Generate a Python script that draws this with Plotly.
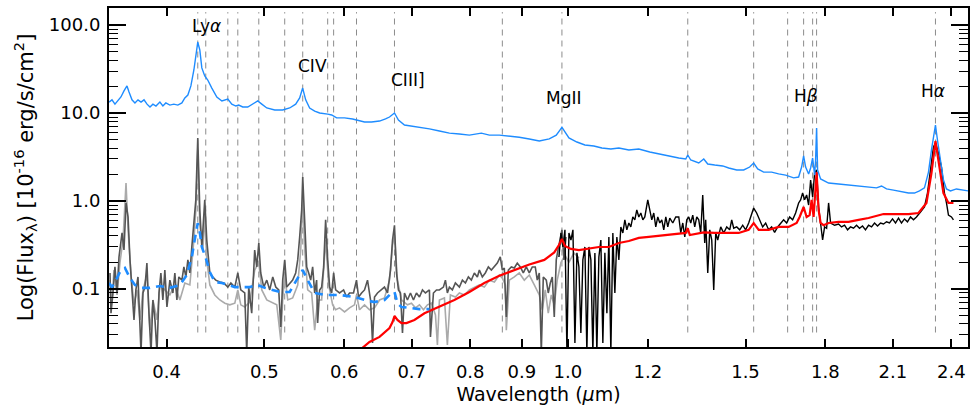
import math
import plotly.graph_objects as go

# ---------------- data (wavelength in micron, flux in 1e-16 erg/s/cm2) ----------------
TPL_WL = [0.3507, 0.3531, 0.3555, 0.3580, 0.3604, 0.3629, 0.3654, 0.3671, 0.3696, 0.3721,
          0.3747, 0.3773, 0.3799, 0.3825, 0.3851, 0.3877, 0.3904, 0.3939, 0.3966, 0.3993,
          0.4030, 0.4067, 0.4104, 0.4142, 0.4170, 0.4199, 0.4228, 0.4257, 0.4276, 0.4295,
          0.4315, 0.4335, 0.4364, 0.4394, 0.4435, 0.4486, 0.4538, 0.4600, 0.4642, 0.4685,
          0.4716, 0.4759, 0.4814, 0.4869, 0.4925, 0.4971, 0.5028, 0.5120, 0.5214, 0.5298,
          0.5371, 0.5420, 0.5457, 0.5495, 0.5545, 0.5609, 0.5673, 0.5778, 0.5831, 0.5897,
          0.6005, 0.6116, 0.6172, 0.6285, 0.6386, 0.6504, 0.6594, 0.6654, 0.6730, 0.6791,
          0.6885, 0.6996, 0.7125, 0.7289, 0.7457, 0.7629, 0.7805, 0.7985, 0.8206, 0.8358,
          0.8550, 0.8748, 0.8949, 0.9156, 0.9367, 0.9583, 0.9737, 0.9819, 0.9864, 0.9932,
          1.0023, 1.0207, 1.0395, 1.0610, 1.0806, 1.1030, 1.1233, 1.1492, 1.1757, 1.2055,
          1.2306, 1.2590, 1.2880, 1.3087, 1.3147, 1.3237, 1.3481, 1.3636, 1.3761, 1.3982,
          1.4239, 1.4436, 1.4702, 1.4938, 1.5143, 1.5282, 1.5423, 1.5635, 1.5922, 1.6179,
          1.6439, 1.6742, 1.6934, 1.7050, 1.7128, 1.7207, 1.7325, 1.7404, 1.7484, 1.7564,
          1.7603, 1.7643, 1.7684, 1.7805, 1.8133, 1.8551, 1.8979, 1.9417, 1.9865, 2.0231,
          2.0462, 2.0697, 2.1030, 2.1417, 2.1762, 2.2061, 2.2315, 2.2570, 2.2778, 2.2934,
          2.3039, 2.3144, 2.3250, 2.3410, 2.3570, 2.3733, 2.3950, 2.4280, 2.4615, 2.4953]
TPL_FLUX = [13.3, 14.1, 12.6, 13.7, 15.2, 17.8, 20.3, 17.3, 14.1, 13.0,
            14.1, 13.3, 14.1, 12.6, 11.7, 12.6, 12.0, 13.3, 12.0, 13.0,
            12.3, 12.6, 12.3, 13.0, 14.8, 16.0, 20.3, 30.8, 45.6, 64.0,
            52.0, 32.5, 26.3, 23.7, 19.2, 15.2, 13.7, 14.4, 12.6, 12.0,
            12.3, 11.7, 11.7, 12.6, 13.7, 12.6, 11.4, 10.8, 10.8, 11.4,
            12.6, 14.8, 19.2, 14.1, 11.4, 10.5, 10.0, 9.7, 9.5, 8.8,
            8.8, 8.55, 8.3, 7.9, 7.9, 8.1, 8.55, 9.0, 10.0, 8.3,
            7.3, 7.1, 6.9, 6.6, 6.25, 5.9, 5.77, 5.6, 5.9, 5.6,
            5.6, 5.47, 5.3, 5.07, 4.8, 5.07, 5.6, 6.4, 6.9, 6.1,
            5.2, 4.68, 4.33, 4.22, 4.0, 3.9, 4.0, 3.8, 3.9, 3.6,
            3.42, 3.25, 3.08, 3.0, 3.33, 2.92, 2.7, 3.0, 2.63, 2.56,
            2.5, 2.37, 2.25, 2.25, 2.43, 2.7, 2.31, 2.13, 2.13, 2.03,
            1.97, 1.83, 1.87, 2.43, 3.25, 2.43, 2.03, 2.37, 3.08, 1.97,
            2.92, 6.76, 2.25, 1.78, 1.6, 1.56, 1.52, 1.48, 1.44, 1.41,
            1.48, 1.37, 1.33, 1.27, 1.23, 1.23, 1.30, 1.41, 2.13, 3.8,
            5.6, 7.3, 4.93, 2.92, 1.73, 1.37, 1.30, 1.37, 1.33, 1.30]

TPL_SCALED_WL = [0.3507, 0.3531, 0.3563, 0.3596, 0.3637, 0.3679, 0.3721, 0.3781, 0.3851, 0.3939,
                 0.4030, 0.4123, 0.4189, 0.4237, 0.4276, 0.4295, 0.4315, 0.4335, 0.4374, 0.4415,
                 0.4465, 0.4538, 0.4674, 0.4836, 0.4925, 0.5005, 0.5179, 0.5298, 0.5396, 0.5458,
                 0.5520, 0.5609, 0.5739, 0.5937, 0.6143, 0.6285, 0.6430, 0.6578, 0.6685, 0.6730,
                 0.6776, 0.6838, 0.6964, 0.7125, 0.7289]
TPL_SCALED_FLUX = [0.117, 0.105, 0.126, 0.156, 0.173, 0.133, 0.111, 0.103, 0.103, 0.108,
                   0.103, 0.111, 0.144, 0.231, 0.43, 0.56, 0.44, 0.30, 0.225, 0.156,
                   0.12, 0.117, 0.105, 0.105, 0.111, 0.103, 0.0925, 0.0925, 0.133, 0.164,
                   0.126, 0.090, 0.0855, 0.0855, 0.081, 0.075, 0.071, 0.075, 0.090, 0.0925,
                   0.069, 0.0625, 0.061, 0.059, 0.059]

OPT1_WL = [0.3515, 0.3523, 0.3539, 0.3555, 0.3572, 0.3588, 0.3613, 0.3629, 0.3646, 0.3663,
           0.3679, 0.3696, 0.3713, 0.3729, 0.3747, 0.3773, 0.3790, 0.3807, 0.3824, 0.3842,
           0.3860, 0.3877, 0.3895, 0.3913, 0.3931, 0.3948, 0.3966, 0.3984, 0.4003, 0.4030,
           0.4058, 0.4076, 0.4095, 0.4113, 0.4142, 0.4161, 0.4180, 0.4199, 0.4218, 0.4237,
           0.4257, 0.4276, 0.4295, 0.4315, 0.4335, 0.4364, 0.4384, 0.4415, 0.4445, 0.4475,
           0.4517, 0.4558, 0.4600, 0.4632, 0.4674, 0.4706, 0.4738, 0.4781, 0.4803, 0.4825,
           0.4858, 0.4869, 0.4891, 0.4914, 0.4937, 0.4959, 0.4993, 0.5028, 0.5062, 0.5097,
           0.5132, 0.5167, 0.5191, 0.5214, 0.5238, 0.5262, 0.5298, 0.5334, 0.5371, 0.5396,
           0.5420, 0.5445, 0.5458, 0.5483, 0.5508, 0.5533, 0.5558, 0.5583, 0.5609, 0.5634,
           0.5647, 0.5673, 0.5699, 0.5725, 0.5751, 0.5778, 0.5804, 0.5831, 0.5857, 0.5884,
           0.5937, 0.5992, 0.6033, 0.6074, 0.6129, 0.6171, 0.6200, 0.6243, 0.6285, 0.6328,
           0.6372, 0.6401, 0.6430, 0.6474, 0.6534, 0.6578, 0.6624, 0.6669, 0.6700, 0.6730,
           0.6761, 0.6791, 0.6823, 0.6854, 0.6885, 0.6932, 0.6980, 0.7028, 0.7076, 0.7125,
           0.7174, 0.7223, 0.7289, 0.7306, 0.7356, 0.7407, 0.7457, 0.7525, 0.7560, 0.7594,
           0.7629, 0.7681, 0.7734, 0.7805, 0.7859, 0.7913, 0.7967, 0.8021, 0.8076, 0.8132,
           0.8169, 0.8225, 0.8281, 0.8339, 0.8396, 0.8454, 0.8511, 0.8569, 0.8609, 0.8648,
           0.8688, 0.8728, 0.8788, 0.8848, 0.8908, 0.8970, 0.9031, 0.9093, 0.9156, 0.9219,
           0.9282, 0.9324, 0.9367, 0.9410, 0.9453, 0.9518, 0.9561, 0.9605, 0.9649, 0.9693,
           0.9737, 0.9775, 0.9819, 0.9864, 0.9910, 0.9955]
OPT1_FLUX = [0.152, 0.053, 0.090, 0.178, 0.090, 0.231, 0.433, 0.277, 0.95, 0.658,
             0.214, 0.0975, 0.0445, 0.0975, 0.137, 0.019, 0.090, 0.105, 0.197, 0.053,
             0.019, 0.075, 0.0445, 0.019, 0.090, 0.152, 0.075, 0.164, 0.0625, 0.126,
             0.090, 0.152, 0.075, 0.137, 0.126, 0.178, 0.137, 0.214, 0.152, 0.30,
             0.562, 1.03, 5.2, 0.79, 0.30, 1.03, 0.36, 0.152, 0.137, 0.126,
             0.12, 0.117, 0.105, 0.117, 0.105, 0.152, 0.0975, 0.090, 0.019, 0.105,
             0.053, 0.090, 0.277, 0.178, 0.333, 0.152, 0.105, 0.126, 0.0975, 0.137,
             0.105, 0.0975, 0.037, 0.126, 0.214, 0.105, 0.117, 0.126, 0.152, 0.214,
             0.39, 0.79, 1.87, 0.507, 0.178, 0.152, 0.126, 0.178, 0.090, 0.126,
             0.041, 0.0975, 0.105, 0.178, 0.61, 0.214, 0.105, 0.090, 0.152, 0.0975,
             0.090, 0.0975, 0.081, 0.090, 0.090, 0.126, 0.081, 0.090, 0.0975, 0.126,
             0.075, 0.0243, 0.081, 0.090, 0.0975, 0.105, 0.090, 0.164, 0.36, 0.53,
             0.152, 0.0975, 0.090, 0.0316, 0.090, 0.075, 0.090, 0.075, 0.090, 0.081,
             0.0975, 0.090, 0.0975, 0.0285, 0.090, 0.0975, 0.0975, 0.105, 0.126, 0.090,
             0.105, 0.0975, 0.117, 0.105, 0.126, 0.117, 0.137, 0.126, 0.152, 0.137,
             0.164, 0.137, 0.152, 0.178, 0.164, 0.178, 0.197, 0.231, 0.164, 0.173,
             0.048, 0.164, 0.178, 0.173, 0.197, 0.178, 0.152, 0.178, 0.152, 0.178,
             0.178, 0.126, 0.152, 0.019, 0.137, 0.126, 0.090, 0.117, 0.137, 0.048,
             0.214, 0.277, 0.36, 0.47, 0.214, 0.39]

OPT2_WL = [0.3515, 0.3531, 0.3547, 0.3572, 0.3596, 0.3621, 0.3646, 0.3663, 0.3688, 0.3713,
           0.3738, 0.3764, 0.3790, 0.3824, 0.3851, 0.3877, 0.3913, 0.3939, 0.3984, 0.4030,
           0.4076, 0.4123, 0.4170, 0.4218, 0.4257, 0.4276, 0.4295, 0.4315, 0.4345, 0.4364,
           0.4384, 0.4415, 0.4465, 0.4517, 0.4569, 0.4621, 0.4674, 0.4706, 0.4738, 0.4781,
           0.4836, 0.4891, 0.4937, 0.4971, 0.5028, 0.5096, 0.5144, 0.5191, 0.5214, 0.5238,
           0.5274, 0.5334, 0.5396, 0.5433, 0.5458, 0.5483, 0.5520, 0.5570, 0.5609, 0.5647,
           0.5699, 0.5751, 0.5791, 0.5844, 0.5884, 0.5937, 0.6005, 0.6074, 0.6143, 0.6171,
           0.6214, 0.6285, 0.6357, 0.6430, 0.6504, 0.6578, 0.6654, 0.6700, 0.6730, 0.6776,
           0.6838, 0.6932, 0.6996, 0.7060, 0.7125, 0.7190, 0.7256, 0.7323, 0.7390, 0.7423,
           0.7457, 0.7543, 0.7594, 0.7646, 0.7734, 0.7805, 0.7895, 0.7985, 0.8076, 0.8169,
           0.8262, 0.8358, 0.8454, 0.8550, 0.8609, 0.8668, 0.8688, 0.8748, 0.8848, 0.8949,
           0.9052, 0.9156, 0.9261, 0.9367, 0.9431, 0.9496, 0.9561, 0.9627, 0.9693, 0.9759,
           0.9842, 0.9932, 1.0023, 1.0138, 1.0254]
OPT2_FLUX = [0.126, 0.075, 0.164, 0.0855, 0.20, 0.36, 1.6, 0.47, 0.144, 0.066,
             0.0975, 0.0445, 0.0975, 0.144, 0.034, 0.075, 0.0445, 0.111, 0.0975, 0.0855,
             0.111, 0.075, 0.117, 0.111, 0.36, 0.79, 3.8, 0.53, 0.277, 0.69,
             0.214, 0.111, 0.0855, 0.075, 0.069, 0.066, 0.069, 0.0975, 0.066, 0.0625,
             0.071, 0.164, 0.20, 0.0975, 0.075, 0.069, 0.066, 0.0263, 0.075, 0.144,
             0.075, 0.079, 0.111, 0.277, 1.03, 0.277, 0.0975, 0.090, 0.034, 0.075,
             0.075, 0.36, 0.111, 0.066, 0.058, 0.061, 0.0548, 0.061, 0.066, 0.0855,
             0.058, 0.066, 0.058, 0.061, 0.075, 0.079, 0.126, 0.316, 0.41, 0.126,
             0.075, 0.066, 0.069, 0.061, 0.066, 0.058, 0.066, 0.069, 0.0507, 0.0231,
             0.075, 0.079, 0.0231, 0.0855, 0.081, 0.090, 0.0855, 0.0975, 0.103, 0.111,
             0.105, 0.126, 0.12, 0.144, 0.133, 0.111, 0.034, 0.126, 0.137, 0.152,
             0.126, 0.144, 0.111, 0.0855, 0.058, 0.0975, 0.053, 0.0855, 0.066, 0.126,
             0.20, 0.243, 0.20, 0.257, 0.225]

NIR_WL = [0.9797, 0.9842, 0.9887, 0.9932, 0.9977, 1.0023, 1.0069, 1.0115, 1.0161, 1.0207,
          1.0254, 1.0300, 1.0347, 1.0395, 1.0442, 1.0490, 1.0538, 1.0586, 1.0635, 1.0683,
          1.0732, 1.0781, 1.0830, 1.0880, 1.0930, 1.0980, 1.1030, 1.1080, 1.1131, 1.1182,
          1.1233, 1.1284, 1.1336, 1.1388, 1.1440, 1.1492, 1.1544, 1.1597, 1.1650, 1.1703,
          1.1757, 1.1811, 1.1865, 1.1919, 1.2000, 1.2055, 1.2110, 1.2165, 1.2221, 1.2277,
          1.2334, 1.2390, 1.2446, 1.2504, 1.2561, 1.2618, 1.2705, 1.2792, 1.2880, 1.2939,
          1.2998, 1.3058, 1.3117, 1.3177, 1.3237, 1.3298, 1.3358, 1.3420, 1.3481, 1.3542,
          1.3604, 1.3666, 1.3697, 1.3761, 1.3824, 1.3887, 1.3950, 1.4014, 1.4078, 1.4174,
          1.4272, 1.4370, 1.4469, 1.4535, 1.4601, 1.4702, 1.4803, 1.4904, 1.5006, 1.5109,
          1.5178, 1.5282, 1.5387, 1.5493, 1.5599, 1.5706, 1.5814, 1.5922, 1.6031, 1.6142,
          1.6253, 1.6364, 1.6477, 1.6590, 1.6704, 1.6818, 1.6934, 1.7011, 1.7089, 1.7167,
          1.7246, 1.7325, 1.7404, 1.7484, 1.7564, 1.7643, 1.7724, 1.7805, 1.7887, 1.7968,
          1.8051, 1.8133, 1.8216, 1.8383, 1.8551, 1.8678, 1.8806, 1.8935, 1.9065, 1.9195,
          1.9327, 1.9460, 1.9593, 1.9727, 1.9865, 2.0001, 2.0139, 2.0277, 2.0416, 2.0556,
          2.0697, 2.0839, 2.0982, 2.1126, 2.1271, 2.1417, 2.1564, 2.1712, 2.1861, 2.2011,
          2.2162, 2.2366, 2.2570, 2.2726, 2.2882, 2.3039, 2.3144, 2.3303, 2.3463, 2.3624,
          2.3733, 2.3841, 2.4005, 2.4114]
NIR_FLUX = [0.231, 0.433, 0.30, 0.47, 0.019, 0.433, 0.36, 0.47, 0.0243, 0.257,
            0.178, 0.0316, 0.214, 0.30, 0.019, 0.30, 0.214, 0.019, 0.257, 0.019,
            0.231, 0.36, 0.0243, 0.257, 0.053, 0.39, 0.019, 0.433, 0.090, 0.39,
            0.214, 0.507, 0.433, 0.61, 0.47, 0.562, 0.507, 0.658, 0.61, 0.79,
            0.658, 0.73, 0.61, 0.658, 1.03, 0.79, 0.61, 0.73, 0.507, 0.658,
            0.562, 0.61, 0.47, 0.658, 0.507, 0.64, 0.562, 0.658, 0.658, 0.433,
            0.562, 0.39, 0.61, 0.658, 0.562, 0.69, 0.507, 0.658, 0.61, 0.433,
            1.17, 0.333, 0.61, 0.152, 0.47, 0.36, 0.0975, 0.433, 0.36, 0.507,
            0.433, 0.507, 0.47, 0.61, 0.49, 0.507, 0.47, 0.53, 0.47, 0.562,
            0.658, 0.83, 0.73, 0.61, 0.507, 0.562, 0.47, 0.507, 0.44, 0.507,
            0.562, 0.61, 0.562, 0.658, 0.61, 0.73, 0.95, 1.03, 1.23, 1.03,
            1.17, 0.90, 1.73, 1.11, 2.08, 2.25, 0.855, 0.507, 0.36, 0.507,
            0.49, 0.95, 0.562, 0.53, 0.548, 0.507, 0.53, 0.47, 0.507, 0.49,
            0.53, 0.49, 0.52, 0.47, 0.53, 0.507, 0.562, 0.52, 0.562, 0.548,
            0.58, 0.562, 0.625, 0.562, 0.64, 0.562, 0.625, 0.58, 0.658, 0.61,
            0.658, 0.75, 0.855, 1.23, 2.25, 4.11, 4.56, 3.5, 2.43, 1.23,
            0.95, 0.69, 0.658, 0.61]

MODEL_WL = [0.6243, 0.6357, 0.6504, 0.6654, 0.6700, 0.6730, 0.6776, 0.6838, 0.6916, 0.7043,
            0.7207, 0.7457, 0.7716, 0.7985, 0.8262, 0.8550, 0.8848, 0.9156, 0.9475, 0.9693,
            0.9797, 0.9864, 0.9932, 1.0069, 1.0254, 1.0490, 1.0732, 1.0980, 1.1233, 1.1492,
            1.1757, 1.2028, 1.2306, 1.2757, 1.3087, 1.3147, 1.3207, 1.3636, 1.3982, 1.4436,
            1.4769, 1.5109, 1.5282, 1.5458, 1.5814, 1.6179, 1.6552, 1.6857, 1.6973, 1.7128,
            1.7246, 1.7364, 1.7444, 1.7523, 1.7603, 1.7643, 1.7724, 1.7805, 1.7927, 1.8133,
            1.8551, 1.8979, 1.9417, 1.9865, 2.0555, 2.1271, 2.1762, 2.2264, 2.2674, 2.2934,
            2.3144, 2.3356, 2.3570, 2.3841, 2.4114]
MODEL_FLUX = [0.021, 0.025, 0.0285, 0.036, 0.042, 0.0493, 0.0445, 0.041, 0.041, 0.0445,
              0.053, 0.0625, 0.075, 0.0925, 0.117, 0.141, 0.164, 0.19, 0.214, 0.26,
              0.316, 0.37, 0.308, 0.285, 0.277, 0.29, 0.30, 0.30, 0.333, 0.351,
              0.38, 0.39, 0.40, 0.422, 0.433, 0.49, 0.41, 0.44, 0.433, 0.433,
              0.433, 0.47, 0.562, 0.47, 0.47, 0.507, 0.507, 0.562, 0.658, 0.855,
              0.658, 0.69, 1.03, 0.658, 1.44, 2.13, 0.79, 0.562, 0.53, 0.562,
              0.58, 0.58, 0.61, 0.64, 0.71, 0.71, 0.71, 0.73, 0.95, 2.08,
              4.8, 2.43, 1.23, 0.95, 0.95]

LINE_WL = [0.4295, 0.4374, 0.4600, 0.4706, 0.4937, 0.5238, 0.5458, 0.5778, 0.5857, 0.6171,
           0.6730, 0.8609, 0.9864, 1.3147, 1.5282, 1.6514, 1.7128, 1.7484, 1.7643, 2.3144]
LINE_FLUX_RANGE = [0.032, 140.0]

LABELS = ["Ly<i>α</i>", "CIV", "CIII]", "MgII", "H<i>β</i>", "H<i>α</i>"]
LABEL_WL = [0.4384, 0.5582, 0.6945, 0.9909, 1.7236, 2.3018]
LABEL_FLUX = [97.4, 34.2, 23.7, 14.8, 15.6, 17.8]

XTICKS = [0.4, 0.5, 0.6, 0.7, 0.8, 0.9, 1.0, 1.2, 1.5, 1.8, 2.1, 2.4]
YTICKS = [0.1, 1.0, 10.0, 100.0]
YTICK_TEXT = ["0.1", "1.0", "10.0", "100.0"]
X_RANGE = [0.3507, 2.4929]
Y_RANGE = [0.0219, 156.0]

# ---------------- figure ----------------
BLUE = "rgb(30,140,255)"
fig = go.Figure()

lx, ly = [], []
for w in LINE_WL:
    lx += [w, w, None]
    ly += [LINE_FLUX_RANGE[0], LINE_FLUX_RANGE[1], None]
fig.add_trace(go.Scatter(x=lx, y=ly, mode="lines",
                         line=dict(color="rgb(140,140,140)", width=1, dash="6px,5px"),
                         hoverinfo="skip"))

fig.add_trace(go.Scatter(x=OPT2_WL, y=OPT2_FLUX, mode="lines",
                         line=dict(color="rgb(170,170,170)", width=1.6)))
fig.add_trace(go.Scatter(x=OPT1_WL, y=OPT1_FLUX, mode="lines",
                         line=dict(color="rgb(85,85,85)", width=1.6)))
fig.add_trace(go.Scatter(x=NIR_WL, y=NIR_FLUX, mode="lines",
                         line=dict(color="black", width=1.4)))
fig.add_trace(go.Scatter(x=MODEL_WL, y=MODEL_FLUX, mode="lines",
                         line=dict(color="rgb(255,0,0)", width=2.2)))
fig.add_trace(go.Scatter(x=TPL_SCALED_WL, y=TPL_SCALED_FLUX, mode="lines",
                         line=dict(color=BLUE, width=2.6, dash="8px,6px")))
fig.add_trace(go.Scatter(x=TPL_WL, y=TPL_FLUX, mode="lines",
                         line=dict(color=BLUE, width=1.4)))

# line labels (annotations positioned in data coordinates; log axes take log10)
for t, w, f in zip(LABELS, LABEL_WL, LABEL_FLUX):
    fig.add_annotation(x=math.log10(w), y=math.log10(f), xref="x", yref="y",
                       text=t, showarrow=False, font=dict(size=17, color="black"),
                       xanchor="center", yanchor="middle")

minor_vals = [m * 10.0 ** e for e in range(-2, 3) for m in range(2, 10)
              if Y_RANGE[0] < m * 10.0 ** e < Y_RANGE[1]]

fig.update_layout(
    width=972, height=411,
    margin=dict(l=109, r=2, t=8, b=64),
    plot_bgcolor="white", paper_bgcolor="white",
    showlegend=False,
    font=dict(family="DejaVu Sans", size=18, color="black"),
)
fig.update_xaxes(
    type="log", range=[math.log10(X_RANGE[0]), math.log10(X_RANGE[1])],
    tickmode="array", tickvals=XTICKS, ticktext=[f"{v:.1f}" for v in XTICKS],
    ticks="inside", ticklen=8, tickwidth=1.5, tickcolor="black",
    showline=True, linecolor="black", linewidth=2, mirror="ticks",
    showgrid=False, zeroline=False, ticklabelstandoff=7,
    title=dict(text="Wavelength (<i>μ</i>m)", standoff=7, font=dict(size=19)),
)
fig.update_yaxes(
    type="log", range=[math.log10(Y_RANGE[0]), math.log10(Y_RANGE[1])],
    tickmode="array", tickvals=YTICKS, ticktext=YTICK_TEXT,
    ticks="inside", ticklen=17, tickwidth=1.5, tickcolor="black",
    minor=dict(tickmode="array", tickvals=minor_vals, ticks="inside", ticklen=9,
               tickwidth=1.2, tickcolor="black", showgrid=False),
    showline=True, linecolor="black", linewidth=2, mirror="ticks",
    showgrid=False, zeroline=False, ticklabelstandoff=3,
    title=dict(text="Log(Flux<sub>λ</sub>) [10<sup>-16</sup> erg/s/cm<sup>2</sup>]",
               standoff=10, font=dict(size=21)),
)

fig.write_html("out.html")
